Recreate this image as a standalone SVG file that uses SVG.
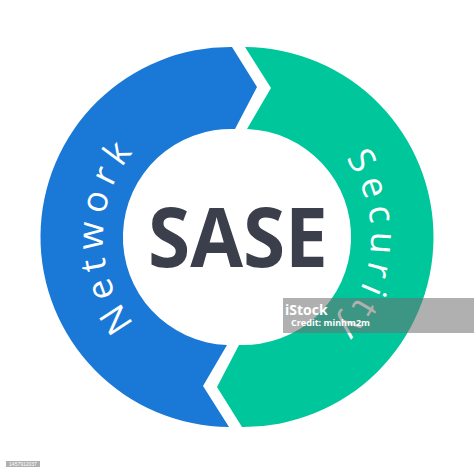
<svg xmlns="http://www.w3.org/2000/svg" xmlns:xlink="http://www.w3.org/1999/xlink" width="474" height="474" viewBox="0 0 474 474">
  <style>
    .ring-label { font-family: "Open Sans", "Noto Sans", "Liberation Sans", sans-serif; font-size: 36px; font-weight: 500; fill: #ffffff; letter-spacing: 7px; }
    .title { font-family: "Open Sans", "Liberation Sans", sans-serif; font-weight: 700; font-size: 83px; fill: #3b3e4b; }
    .wm { font-family: "Open Sans", "Liberation Sans", sans-serif; font-weight: 700; fill: #ffffff; }
  </style>
  <defs>
    <path id="leftArc" d="M 237 371 A 134 134 0 0 1 237 103"/>
    <path id="rightArc" d="M 237 103 A 134 134 0 0 1 237 371"/>
  </defs>
  <rect width="474" height="474" fill="#ffffff"/>
  <g id="network">
    <path d="M 232 47 L 257 87 L 235 129 A 108 108 0 0 0 227 345 L 203 386 L 229 427 A 190 190 0 0 1 232 47 Z" fill="#1a78d6"/>
    <text class="ring-label" text-anchor="middle"><textPath xlink:href="#leftArc" href="#leftArc" startOffset="50.5%">Network</textPath></text>
  </g>
  <g id="security">
    <path d="M 245 47 L 271 88 L 247 129 A 108 108 0 0 1 239 345 L 217 387 L 242 427 A 190 190 0 0 0 245 47 Z" fill="#00c69b"/>
    <text class="ring-label" text-anchor="middle"><textPath xlink:href="#rightArc" href="#rightArc" startOffset="52.6%">Security</textPath></text>
  </g>
  <g id="sase">
    <text class="title" x="238" y="267" text-anchor="middle" textLength="180" lengthAdjust="spacingAndGlyphs">SASE</text>
  </g>
  <g id="connectors"></g>
  <g id="watermark">
    <rect x="283" y="298" width="191" height="35" fill="#707070" fill-opacity="0.55"/>
    <text class="wm" x="285" y="315" font-size="14">iStock</text>
    <text class="wm" x="291" y="326" font-size="9" textLength="79" lengthAdjust="spacingAndGlyphs">Credit: minhm2m</text>
    <rect x="6" y="461" width="34" height="6" fill="#b0b0b0"/>
    <text x="23" y="466" font-family="Liberation Sans, sans-serif" font-size="5" fill="#ffffff" text-anchor="middle">1457912037</text>
  </g>
</svg>
